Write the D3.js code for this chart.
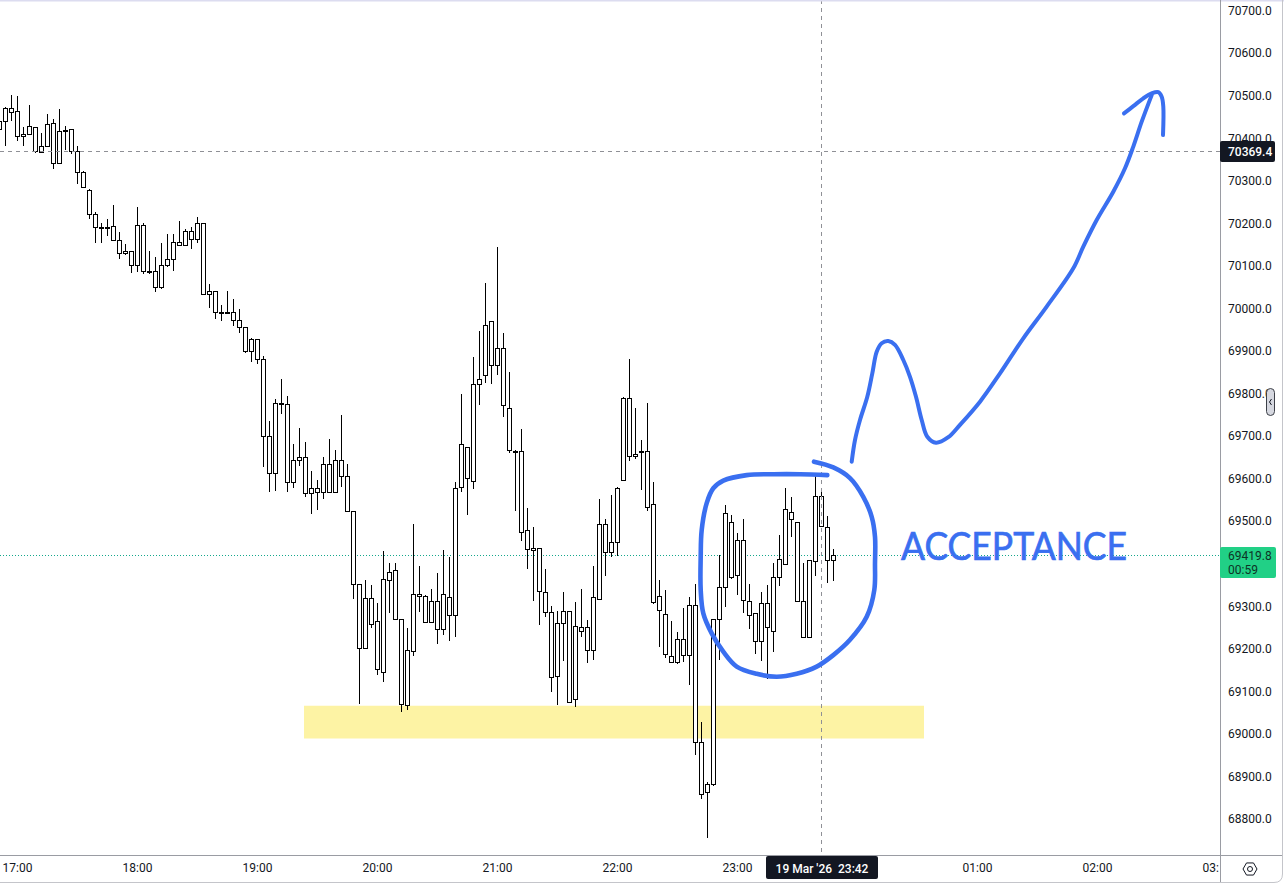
<!DOCTYPE html>
<html>
<head>
<meta charset="utf-8">
<script src="https://cdn.jsdelivr.net/npm/d3@7/dist/d3.min.js"></script>
<style>
html,body{margin:0;padding:0;background:#fff;overflow:hidden}
svg{display:block}
text{font-family:Roboto,"Noto Sans",sans-serif}
</style>
</head>
<body>
<svg id="c" width="1284" height="884"></svg>
<script>
// Candle values: 3-minute candles, first candle at 16:51
const firstMinute = -9, stepMinutes = 3;
const highs = [70438,70473,70500,70498,70424,70477,70424,70410,70456,70443,70467,70427,70420,70380,70322,70279,70225,70199,70208,70241,70179,70149,70133,70236,70199,70133,70119,70152,70173,70173,70203,70185,70190,70214,70199,
70056,70040,70006,70040,70020,69997,69955,69929,69927,69887,69733,69787,69834,69793,69680,69718,69684,69617,69596,69650,69692,69665,69748,69633,69522,
69351,69360,69348,69306,69429,69400,69400,69270,69247,69492,69393,69325,69339,69376,69430,69414,69591,69798,69673,69884,69946,70058,69968,70142,69940,69849,69666,69715,69529,69484,69435,
69386,69299,69287,69332,69287,69308,69339,69266,69393,69550,69505,69560,69579,69791,69879,69764,69689,69776,69590,69360,69336,69263,69238,69294,69320,69350,69026,68885,69270,
69419,69536,69513,69470,69503,69350,69283,69332,69348,69400,69466,69576,69555,69497,69400,69408,69611,69569,69510,69433];
const bodyTops = [70438,70469,70469,70462,70408,70427,70424,70380,70431,70434,70415,70417,70420,70368,70319,70276,70220,70190,70190,70192,70159,70133,70133,70194,70194,70086,70086,70100,70114,70154,70154,70180,70180,70199,70199,
70039,70039,69991,69991,69990,69971,69954,69926,69926,69881,69700,69776,69776,69773,69642,69649,69649,69576,69576,69632,69632,69642,69642,69606,69522,
69350,69318,69318,69263,69362,69379,69383,69268,69195,69327,69327,69322,69310,69310,69327,69320,69576,69679,69672,69820,69832,69959,69968,69905,69905,69764,69664,69663,69477,69435,69435,
69332,69285,69259,69287,69287,69252,69249,69249,69320,69491,69491,69449,69576,69788,69788,69657,69663,69663,69538,69322,69280,69181,69223,69223,69301,69301,68979,68880,69268,
69343,69517,69496,69454,69454,69310,69283,69306,69306,69367,69409,69527,69520,69497,69310,69407,69557,69557,69484,69419.8];
const bodyBottoms = [70420,70438,70461,70403,70405,70408,70368,70366,70380,70340,70340,70415,70368,70319,70283,70220,70189,70189,70189,70159,70128,70128,70100,70100,70086,70085,70048,70048,70100,70114,70147,70147,70161,70161,70032,
70032,69990,69989,69989,69971,69954,69898,69898,69881,69700,69611,69611,69774,69590,69590,69642,69564,69564,69568,69568,69568,69568,69606,69522,69350,
69200,69200,69256,69151,69144,69360,69268,69068,69066,69193,69322,69262,69262,69245,69245,69278,69278,69578,69601,69593,69820,69842,69865,69865,69771,69665,69662,69474,69433,69430,69334,
69285,69133,69134,69259,69073,69082,69240,69195,69195,69315,69426,69426,69449,69596,69651,69653,69661,69531,69308,69289,69186,69167,69167,69184,69184,68979,68857,68862,68880,
69268,69343,69367,69372,69313,69278,69216,69216,69249,69240,69367,69397,69505,69310,69226,69226,69404,69487,69407,69407];
const lows = [70420,70381,70440,70393,70381,70408,70365,70366,70380,70326,70340,70370,70361,70290,70283,70208,70153,70152,70170,70156,70116,70125,70083,70084,70079,70079,70037,70045,70097,70087,70147,70147,70139,70153,70032,
70000,69973,69970,69989,69958,69942,69893,69873,69869,69627,69568,69570,69751,69568,69577,69629,69556,69516,69525,69552,69566,69568,69580,69522,69317,
69069,69200,69247,69137,69121,69284,69268,69051,69056,69182,69286,69260,69260,69211,69232,69218,69226,69568,69514,69574,69772,69824,69822,69843,69744,69660,69523,69453,69387,69312,69255,
69273,69098,69067,69171,69071,69061,69226,69165,69172,69314,69371,69414,69416,69593,69639,69645,69573,69523,69305,69202,69177,69165,69164,69167,69113,68949,68847,68754,68877,
69173,69298,69362,69325,69284,69245,69186,69169,69127,69191,69346,69395,69461,69310,69226,69226,69369,69487,69353,69358];

// 69400.0 and 00:00 are hidden behind the labels in the reference, so they are left out
const priceTicks = [70700,70600,70500,70400,70300,70200,70100,70000,69900,69800,69700,69600,69500,69300,69200,69100,69000,68900,68800];
const timeTickMinutes = [0,60,120,180,240,300,360,480,540,600];
const timeTickLabels = ["17:00","18:00","19:00","20:00","21:00","22:00","23:00","01:00","02:00","03:00"];

const crosshairPrice = 70369.4, crosshairMinute = 402, crosshairLabel = "19 Mar '26  23:42";
const lastPrice = 69419.8, countdown = "00:59";
const zoneTop = 69065, zoneBottom = 68988, zoneStartMinute = 143.5, zoneEndMinute = 453.5;

// Hand-drawn annotations as [minute, price]
const circleStroke = [[398.5,69638.5],[408.15,69625],[416.5,69600],[423.15,69556],[427.35,69509],[429,69462],[429,69400],[428.65,69337],[424.85,69274],[416.5,69220],[408.15,69184],[399.85,69157],[389.85,69140],[379.85,69133],[369.85,69140],[359.85,69157],[353.15,69192],[347.35,69235],[343.15,69282],[341.85,69337],[341.85,69415],[342.35,69478],[344.85,69541],[348.15,69576],[353.15,69594],[364.85,69607],[378.15,69609],[391.5,69609],[405.15,69607]];
const arrowStroke = [[417.35,69638.5],[419,69689.5],[421.5,69736.5],[425.15,69791],[427.65,69846],[429.85,69897],[432.35,69917],[435.65,69922],[439,69913],[443.15,69877.5],[446.5,69838],[449.5,69791],[452.35,69736.5],[455.15,69697],[459.5,69683],[465.65,69696],[471.5,69725],[481.5,69779.5],[491.5,69846],[503.15,69928.5],[514.85,70003],[528.15,70093],[533.15,70144],[539.85,70206.5],[548.15,70273],[554,70328],[558.15,70379],[562.35,70437.5],[567.35,70500]];
const arrowHead = [[553.5,70457],[558.15,70474],[563.15,70492.5],[567.35,70504],[570.65,70507],[572.35,70496],[573.15,70473],[573,70406]];

const W = 1284, H = 884, axisX = 1220, axisY = 855;
const blue = "#3a6ff0", ink = "#131722";
const x = d3.scaleLinear().domain([0,60]).range([17,137]);
const y = d3.scaleLinear().domain([68800,70700]).range([818.5,10]);
const svg = d3.select("#c");
const defs = svg.append("defs");
defs.append("clipPath").attr("id","plot").append("rect").attr("x",0).attr("y",0).attr("width",axisX).attr("height",axisY);
defs.append("clipPath").attr("id","timeclip").append("rect").attr("x",0).attr("y",axisY).attr("width",axisX-1).attr("height",H-axisY);

svg.append("rect").attr("width",W).attr("height",H).attr("fill","#fff");
const plot = svg.append("g").attr("clip-path","url(#plot)");

// zone
plot.append("rect")
  .attr("x",x(zoneStartMinute)).attr("width",x(zoneEndMinute)-x(zoneStartMinute))
  .attr("y",y(zoneTop)).attr("height",y(zoneBottom)-y(zoneTop))
  .attr("fill","#fdf3a4");

// last price dotted line
const snap = v => Math.round(v)+0.5;
plot.append("line").attr("x1",0).attr("x2",axisX).attr("y1",snap(y(lastPrice))).attr("y2",snap(y(lastPrice)))
  .attr("stroke","#14a88c").attr("stroke-dasharray","1,2");

// candles
const candles = highs.map((h,i)=>({m:firstMinute+i*stepMinutes,h,t:bodyTops[i],b:bodyBottoms[i],l:lows[i]}));
const cg = plot.append("g").selectAll("g").data(candles).join("g");
cg.append("line")
  .attr("x1",d=>snap(x(d.m))).attr("x2",d=>snap(x(d.m)))
  .attr("y1",d=>Math.round(y(d.h))).attr("y2",d=>Math.round(y(d.l)))
  .attr("stroke","#000").attr("stroke-width",1);
cg.append("rect")
  .attr("x",d=>snap(x(d.m))-2).attr("width",4)
  .attr("y",d=>snap(y(d.t)))
  .attr("height",d=>Math.max(1,Math.round(y(d.b))-Math.round(y(d.t))))
  .attr("fill","#fff").attr("stroke","#000").attr("stroke-width",1);

// crosshair
plot.append("line").attr("x1",snap(x(crosshairMinute))).attr("x2",snap(x(crosshairMinute))).attr("y1",0).attr("y2",axisY)
  .attr("stroke","#8f9096").attr("stroke-dasharray","4,4");
plot.append("line").attr("x1",0).attr("x2",axisX).attr("y1",snap(y(crosshairPrice))).attr("y2",snap(y(crosshairPrice)))
  .attr("stroke","#8f9096").attr("stroke-dasharray","4,4");

// annotations
const curve = d3.line().x(d=>x(d[0])).y(d=>y(d[1])).curve(d3.curveCatmullRom.alpha(0.5));
const strokes = [[circleStroke,4.6],[arrowStroke,4],[arrowHead,4]];
plot.selectAll("path.draw").data(strokes).join("path").attr("class","draw")
  .attr("d",d=>curve(d[0])).attr("fill","none").attr("stroke",blue)
  .attr("stroke-width",d=>d[1]).attr("stroke-linecap","round").attr("stroke-linejoin","round");
plot.append("text").text("ACCEPTANCE").attr("x",901).attr("y",559.5)
  .attr("font-size",38).attr("fill",blue).attr("stroke",blue).attr("stroke-width",0.7).style("font-family","Lato")
  .attr("textLength",226).attr("lengthAdjust","spacingAndGlyphs");

// frame
svg.append("line").attr("x1",0).attr("x2",W).attr("y1",0.5).attr("y2",0.5).attr("stroke","#dcdcf0").attr("stroke-width",2);
svg.append("line").attr("x1",snap(axisX)).attr("x2",snap(axisX)).attr("y1",0).attr("y2",H-2).attr("stroke","#9a9ca3");
svg.append("line").attr("x1",0).attr("x2",W-1).attr("y1",snap(axisY)).attr("y2",snap(axisY)).attr("stroke","#9a9ca3");
svg.append("path").attr("d",`M0,${H-1.5}H${W-10}Q${W-1.5},${H-1.5} ${W-1.5},${H-10}V0`).attr("fill","none").attr("stroke","#c4c5ca");

// axes
const yAxis = d3.axisRight(y).tickValues(priceTicks).tickSize(0).tickPadding(0).tickFormat(d3.format(".1f"));
const yG = svg.append("g").attr("transform",`translate(${axisX+8},0.5)`).call(yAxis);
yG.select(".domain").remove();
yG.selectAll("text").attr("font-size",12).attr("fill",ink).style("font-family","Roboto");

const xAxis = d3.axisBottom(x).tickValues(timeTickMinutes)
  .tickSize(0).tickPadding(0).tickFormat((d,i)=>timeTickLabels[i]);
const xG = svg.append("g").attr("clip-path","url(#timeclip)").append("g").attr("transform",`translate(0,${axisY+8})`).call(xAxis);
xG.select(".domain").remove();
xG.selectAll("text").attr("font-size",12).attr("fill",ink).style("font-family","Roboto");

// crosshair date label
svg.append("rect").attr("x",766).attr("y",856).attr("width",112).attr("height",23).attr("rx",2).attr("fill",ink);
svg.append("text").text(crosshairLabel).attr("x",822).attr("y",873).attr("text-anchor","middle")
  .attr("font-size",12).attr("font-weight",500).attr("fill","#fff").style("white-space","pre").attr("xml:space","preserve");

// crosshair price label
svg.append("rect").attr("x",axisX).attr("y",141).attr("width",55).attr("height",21).attr("rx",2).attr("fill",ink);
svg.append("text").text(d3.format(".1f")(crosshairPrice)).attr("x",axisX+8).attr("y",156)
  .attr("font-size",12).attr("font-weight",500).attr("fill","#fff");

// last price label
svg.append("rect").attr("x",axisX).attr("y",547).attr("width",56).attr("height",31).attr("rx",2).attr("fill","#21d086");
svg.append("text").text(d3.format(".1f")(lastPrice)).attr("x",axisX+8).attr("y",560).attr("font-size",12).attr("fill","#0d3325");
svg.append("text").text(countdown).attr("x",axisX+8).attr("y",574).attr("font-size",12).attr("fill","#0d3325");

// scale handle
svg.append("rect").attr("x",1266.5).attr("y",388.5).attr("width",8).attr("height",27).attr("rx",4)
  .attr("fill","#d6d8e0").attr("stroke","#3c3f47").attr("stroke-width",1);
svg.append("path").attr("d","M1271.5,399L1269.5,402L1271.5,405").attr("fill","none").attr("stroke","#131722");

// settings icon
const hex = d3.range(6).map(k=>[1250+7*Math.cos(k*Math.PI/3),869+7*Math.sin(k*Math.PI/3)]);
svg.append("path").attr("d",d3.line()(hex)+"Z").attr("fill","none").attr("stroke",ink).attr("stroke-linejoin","round");
svg.append("circle").attr("cx",1250).attr("cy",869).attr("r",2.5).attr("fill","none").attr("stroke",ink);
</script>
</body>
</html>
